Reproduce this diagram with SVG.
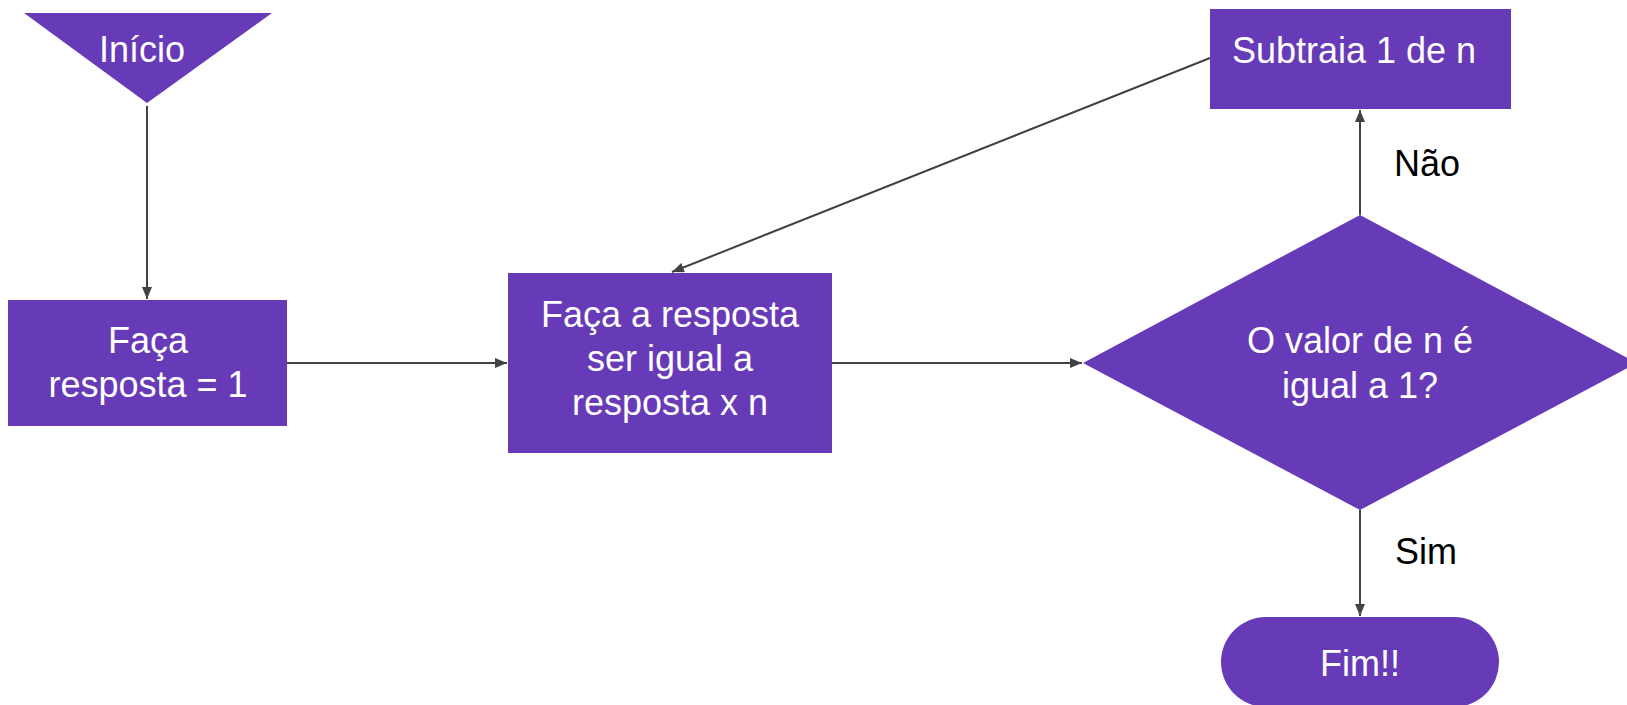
<svg xmlns="http://www.w3.org/2000/svg" width="1627" height="705" viewBox="0 0 1627 705">
<style>
.n{fill:#673AB7}
.t{fill:#ffffff;font-family:"Liberation Sans",Arial,sans-serif;font-size:36px;text-anchor:middle}
.l{fill:#000000;font-family:"Liberation Sans",Arial,sans-serif;font-size:36px;text-anchor:start}
.c{stroke:#424242;stroke-width:2;fill:none}
</style>
<defs>
<marker id="ah" viewBox="0 0 12 10" refX="12" refY="5" markerWidth="12" markerHeight="10" orient="auto" markerUnits="userSpaceOnUse">
<path d="M0,0 L12,5 L0,10 Z" fill="#424242"/>
</marker>
</defs>
<rect width="1627" height="705" fill="#ffffff"/>
<g id="connectors">
<line class="c" x1="147" y1="106" x2="147" y2="299" marker-end="url(#ah)"/>
<line class="c" x1="287" y1="363" x2="507" y2="363" marker-end="url(#ah)"/>
<line class="c" x1="832" y1="363" x2="1082" y2="363" marker-end="url(#ah)"/>
<line class="c" x1="1360" y1="215" x2="1360" y2="110" marker-end="url(#ah)"/>
<line class="c" x1="1360" y1="510" x2="1360" y2="616" marker-end="url(#ah)"/>
<line class="c" x1="1210" y1="58" x2="672" y2="272" marker-end="url(#ah)"/>
<text class="l" x="1394" y="176">Não</text>
<text class="l" x="1395" y="564">Sim</text>
</g>
<g id="inicio">
<polygon class="n" points="24,13 272,13 147,103"/>
<text class="t" x="142" y="62">Início</text>
</g>
<g id="faca-resposta-1">
<rect class="n" x="8" y="300" width="279" height="126"/>
<text class="t" x="148" y="353">Faça</text>
<text class="t" x="148" y="397">resposta = 1</text>
</g>
<g id="faca-resposta-n">
<rect class="n" x="508" y="273" width="324" height="180"/>
<text class="t" x="670" y="327">Faça a resposta</text>
<text class="t" x="670" y="371">ser igual a</text>
<text class="t" x="670" y="415">resposta x n</text>
</g>
<g id="decisao">
<polygon class="n" points="1360,215 1637,363 1360,510 1083,363"/>
<text class="t" x="1360" y="353">O valor de n é</text>
<text class="t" x="1360" y="398">igual a 1?</text>
</g>
<g id="subtraia">
<rect class="n" x="1210" y="9" width="301" height="100"/>
<text class="t" x="1354" y="63">Subtraia 1 de n</text>
</g>
<g id="fim">
<rect class="n" x="1221" y="617" width="278" height="90" rx="45" ry="45"/>
<text class="t" x="1360" y="676">Fim!!</text>
</g>
</svg>
